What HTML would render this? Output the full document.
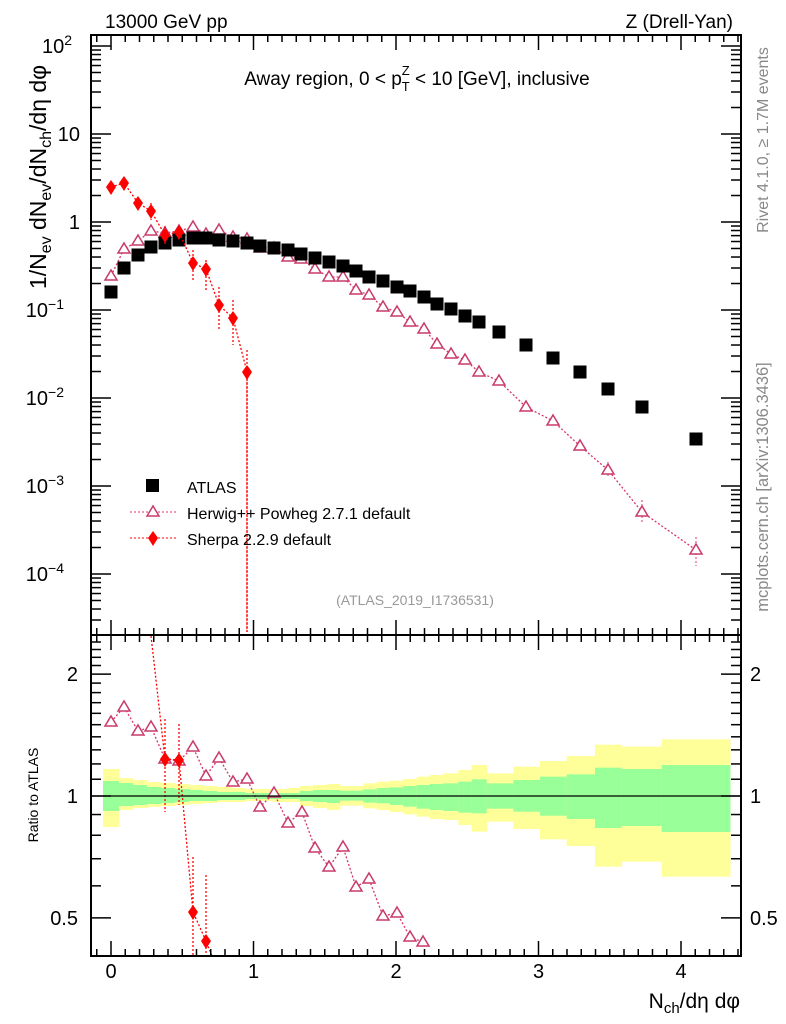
<!DOCTYPE html>
<html><head><meta charset="utf-8"><style>
body{margin:0;background:#fff;}
svg{display:block;font-family:"Liberation Sans",sans-serif;}
</style></head><body>
<svg id="s" width="786" height="1024" viewBox="0 0 786 1024" xmlns="http://www.w3.org/2000/svg">
<rect width="786" height="1024" fill="#fff"/>
<g id="bands"></g>
<g id="data"></g>
<g id="axes" stroke="#000" fill="none" stroke-width="1"></g>
<text x="105" y="28" font-size="19">13000 GeV pp</text>
<text x="733" y="28" font-size="19" text-anchor="end">Z (Drell-Yan)</text>
<text x="417" y="85" font-size="19" text-anchor="middle">Away region, 0 &lt; p<tspan font-size="13" dy="6">T</tspan><tspan font-size="13" dx="-8" dy="-16">Z</tspan><tspan dy="10"> &lt; 10 [GeV], inclusive</tspan></text>
<text x="415" y="605" font-size="14" fill="#999" text-anchor="middle">(ATLAS_2019_I1736531)</text>
<text transform="translate(768,140) rotate(-90)" font-size="16" fill="#888" text-anchor="middle">Rivet 4.1.0, ≥ 1.7M events</text>
<text transform="translate(768,487) rotate(-90)" font-size="16.5" fill="#888" text-anchor="middle">mcplots.cern.ch [arXiv:1306.3436]</text>
<text transform="translate(46,177) rotate(-90)" font-size="23" text-anchor="middle">1/N<tspan font-size="16" dy="5">ev</tspan><tspan dy="-5"> dN</tspan><tspan font-size="16" dy="5">ev</tspan><tspan dy="-5">/dN</tspan><tspan font-size="16" dy="5">ch</tspan><tspan dy="-5">/dη dφ</tspan></text>
<text transform="translate(38,795) rotate(-90)" font-size="14" text-anchor="middle">Ratio to ATLAS</text>
<text x="740" y="1008" font-size="21" text-anchor="end">N<tspan font-size="15" dy="5">ch</tspan><tspan dy="-5">/dη dφ</tspan></text>
<g font-size="19">
<rect x="146" y="479" width="13" height="13" fill="#000"/>
<text x="187" y="493" font-size="16">ATLAS</text>
<line x1="130" y1="512" x2="176" y2="512" stroke="#d8336b" stroke-dasharray="2,2"/>
<polygon points="153,506 159,516 147,516" fill="#fff" stroke="#c83a6a" stroke-width="1.5"/>
<text x="187" y="519" font-size="16">Herwig++ Powheg 2.7.1 default</text>
<line x1="130" y1="538" x2="176" y2="538" stroke="#f00" stroke-dasharray="2,2"/>
<polygon points="153,531 158,538 153,546 148,538" fill="#f00"/>
<text x="187" y="545" font-size="16">Sherpa 2.2.9 default</text>
</g>
</svg>
<script>
const NS="http://www.w3.org/2000/svg";
function el(p,t,a){const e=document.createElementNS(NS,t);for(const k in a)e.setAttribute(k,a[k]);p.appendChild(e);return e;}
const ax=document.getElementById('axes'),dg=document.getElementById('data'),bg=document.getElementById('bands'),s=document.getElementById('s');
const L=91,R=741,T=35,M=635,B=956;
const X=v=>111+v*142.5;
const Ym=v=>222-Math.log10(v)*88;
const Yr=v=>796-Math.log10(v)*405;
el(ax,'rect',{x:L,y:T,width:R-L,height:M-T,'stroke-width':2});
el(ax,'rect',{x:L,y:M,width:R-L,height:B-M,'stroke-width':2});
for(let i=-1;i<=45;i++){const v=i/10;const x=X(v);if(x<L+1||x>R-1)continue;const maj=i%10==0;const l=maj?15:7;
[[T,1],[M,1],[M,-1],[B,-1]].forEach(([y,d])=>el(ax,'line',{x1:x,y1:y,x2:x,y2:y+d*l,'stroke-width':1.5}));
}
for(let i=0;i<=4;i++)el(s,'text',{x:X(i),y:978,'font-size':20,'text-anchor':'middle'}).textContent=i;
for(let d=-5;d<=2;d++){for(let k=1;k<10;k++){const v=k*Math.pow(10,d);const y=Ym(v);if(y<T||y>M)continue;const l=k==1?20:10;
el(ax,'line',{x1:L,y1:y,x2:L+l,y2:y,'stroke-width':1.5});el(ax,'line',{x1:R,y1:y,x2:R-l,y2:y,'stroke-width':1.5});}}
const yl=[[2,'10','2'],[1,'10',''],[0,'1',''],[-1,'10','−1'],[-2,'10','−2'],[-3,'10','−3'],[-4,'10','−4']];
yl.forEach(([d,b,e])=>{const t=el(s,'text',{x:e?80-e.length*8:80,y:Ym(Math.pow(10,d))+7,'font-size':20,'text-anchor':'end'});t.textContent=b;
if(e){const ts=el(t,'tspan',{dy:-8,'font-size':14});ts.textContent=e;}});
const rt=[];for(let v=0.4;v<0.999;v+=0.1)rt.push(v);for(let v=1;v<2.55;v+=0.1)rt.push(v);
rt.forEach(v=>{const y=Yr(v);if(y<M+1||y>B-1)return;const maj=[0.5,1,2].some(m=>Math.abs(m-v)<1e-6);const l=maj?20:10;
el(ax,'line',{x1:L,y1:y,x2:L+l,y2:y,'stroke-width':1.5});el(ax,'line',{x1:R,y1:y,x2:R-l,y2:y,'stroke-width':1.5});});
[[2,'2'],[1,'1'],[0.5,'0.5']].forEach(([v,t])=>{el(s,'text',{x:78,y:Yr(v)+7,'font-size':20,'text-anchor':'end'}).textContent=t;el(s,'text',{x:750,y:Yr(v)+7,'font-size':20}).textContent=t;});
const bands=[[103,119,769,781,811,827],[119,133,778,783,806,810],[133,147,780,785,805,808],[147,161,782,787,804,807],[161,175,783,788,803,806],[175,189,784,789,802,805],[189,203,785,790,801,804],[203,217,786,791,801,803],[217,231,787,792,800,802],[231,245,788,792,800,802],[245,259,789,793,799,801],[259,273,789,793,799,801],[273,287,789,793,799,802],[287,300,788,793,799,802],
[300,313,786,791,801,806],[313,327,785,790,802,808],[327,340,784,790,803,810]];
const z4=[[0,70,468,482,512,527],[70,110,460,478,518,535],[110,150,455,474,520,540],[150,190,452,472,525,546],[190,230,447,468,530,553],[230,270,440,465,536,560],[270,310,435,462,540,567],[310,355,430,460,543,570],[355,395,420,455,548,585],[395,440,405,448,550,605],[440,520,430,460,536,575],[520,600,410,450,545,597],[600,680,393,440,557,628],[680,765,378,433,567,648],[765,845,344,413,594,710],[845,965,350,417,588,695],[965,1170,328,405,606,740]];
z4.forEach(b=>bands.push([340+b[0]/3,340+b[1]/3,630+b[2]/3,630+b[3]/3,630+b[4]/3,630+b[5]/3]));
bands.forEach(b=>{el(bg,'rect',{x:b[0],y:b[2],width:b[1]-b[0]+0.5,height:b[5]-b[2],fill:'#ffff99'});el(bg,'rect',{x:b[0],y:b[3],width:b[1]-b[0]+0.5,height:b[4]-b[3],fill:'#99ff99'});});
el(ax,'line',{x1:L,y1:796,x2:R,y2:796,'stroke-width':1.2});
const ax_x=[111,124,138,151,165,179,193,206,219,233,247,260,274,288,301,315,329,343,356,369,383,397,410,424,437,451,465,479,499,526,553,580,608,642,696];
const ax_y=[292,268,255,247,243,240,238,238,240,241,243,246,248,250,254,258,262,266,271,277,281,287,291,297,304,309,316,322,332,345,358,372,389,407,439];
const hw_y=[276,249,241,231,233,231,227,234,230,237,239,248,248,257,259,269,277,277,290,295,307,312,322,329,344,354,360,372,381,407,421,446,470,512,550];
const hr=[[111,722],[124,707],[138,731],[151,727],[165,759],[179,761],[193,747],[206,776],[219,758],[233,782],[247,779],[260,807],[274,793],[288,823],[302,812],[315,848],[329,867],[343,847],[356,887],[369,879],[383,916],[397,913],[410,937],[423,942]];
const HC='#c83a6a';
function tri(x,y){el(dg,'polygon',{points:`${x},${y-6} ${x+6},${y+4} ${x-6},${y+4}`,fill:'#fff',stroke:HC,'stroke-width':1.5});}
function dia(x,y){el(dg,'polygon',{points:`${x},${y-7} ${x+5},${y} ${x},${y+8} ${x-5},${y}`,fill:'#f00'});}
function pl(pts,c){el(dg,'polyline',{points:pts.map(p=>p.join(',')).join(' '),fill:'none',stroke:c,'stroke-width':1.3,'stroke-dasharray':'2,2'});}
pl(ax_x.map((x,i)=>[x,hw_y[i]]),'#d8336b');
[[608,462,478],[642,500,524],[696,537,566]].forEach(([x,a,b])=>el(dg,'line',{x1:x,y1:a,x2:x,y2:b,stroke:'#d8336b','stroke-dasharray':'2,2'}));
ax_x.forEach((x,i)=>tri(x,hw_y[i]));
ax_x.forEach((x,i)=>el(dg,'rect',{x:x-6.5,y:ax_y[i]-6.5,width:13,height:13,fill:'#000'}));
const sh=[[111,187],[124,183],[138,203],[151,211],[165,235],[179,232],[193,263],[206,269],[219,305],[233,318],[247,372]];
pl(sh.concat([[247,632]]),'#f00');
[[151,203,220],[165,226,244],[193,250,280],[206,260,292],[219,287,330],[233,300,345],[247,350,632]].forEach(([x,a,b])=>el(dg,'line',{x1:x,y1:a,x2:x,y2:b,stroke:'#f00','stroke-dasharray':'2,2','stroke-width':1.3}));
sh.forEach(p=>dia(p[0],p[1]));
pl(hr,'#d8336b');hr.forEach(p=>tri(p[0],p[1]));
const sr=[[151,636],[165,759],[179,760],[193,912],[206,941],[212,956]];
pl(sr,'#f00');
[[165,719,812],[179,724,805],[193,857,956],[206,875,956]].forEach(([x,a,b])=>el(dg,'line',{x1:x,y1:a,x2:x,y2:b,stroke:'#f00','stroke-dasharray':'2,2','stroke-width':1.3}));
sr.slice(1,5).forEach(p=>dia(p[0],p[1]));
</script>
</body></html>
